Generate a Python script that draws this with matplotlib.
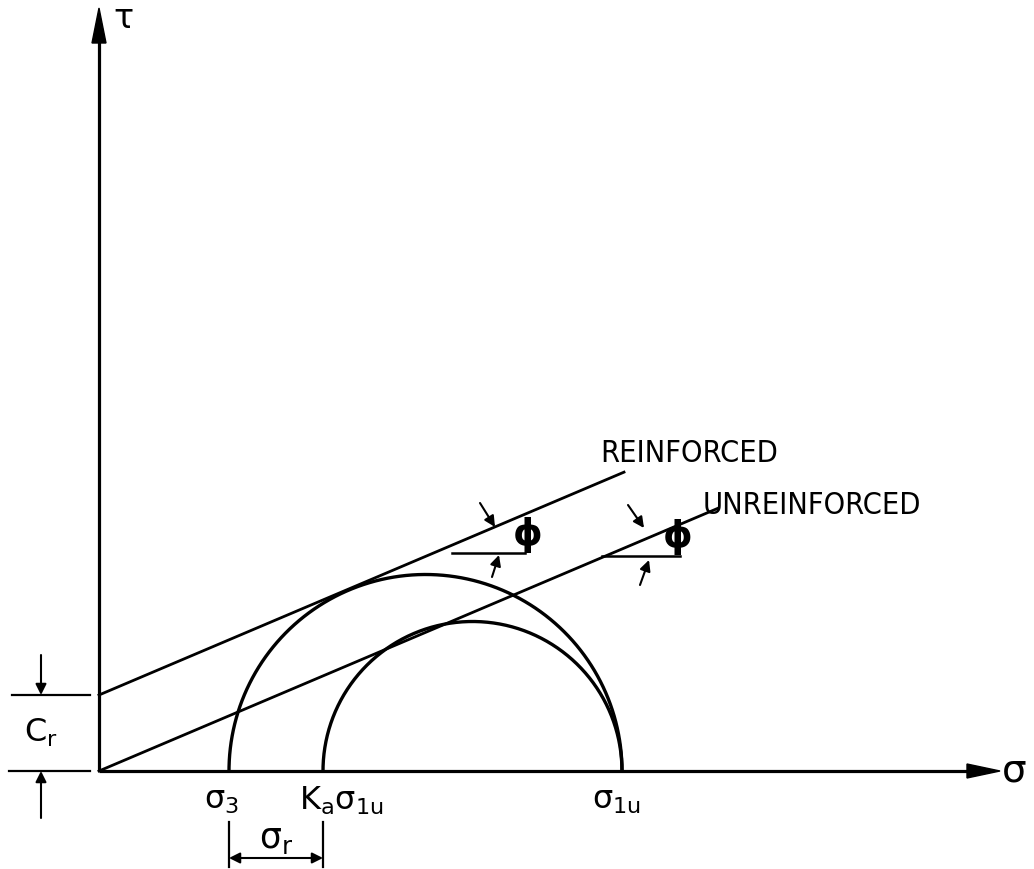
import numpy as np
import matplotlib.pyplot as plt

# stresses along sigma axis (drawing units, origin at axes origin)
sigma_3 = 130
ka_sigma_1u = 224
sigma_1u = 523
phi_deg = 23
c_r = 76
reinf_end = 525
unreinf_end = 619

labels_x = ['σ$_3$', 'K$_\\mathrm{a}$σ$_\\mathrm{1u}$', 'σ$_\\mathrm{1u}$']

plt.rcParams['mathtext.fontset'] = 'dejavusans'

fig = plt.figure(figsize=(10.34, 8.69), dpi=100)
ax = fig.add_axes([0, 0, 1, 1])
ax.set_xlim(-99, 935)
ax.set_ylim(-98, 771)
ax.axis('off')

k = dict(color='black', lw=2.3, solid_capstyle='butt')

# axes with arrows
ax.plot([0, 0], [0, 735], **k)
ax.plot([0, 870], [0, 0], **k)
ax.fill([-7, 7, 0], [728, 728, 763], color='black')
ax.fill([868, 868, 901], [-7, 7, 0], color='black')
ax.text(24, 753, 'τ', fontsize=24, ha='center', va='center')
ax.text(915, 0, 'σ', fontsize=28, ha='center', va='center')

# Mohr circles (upper halves)
t = np.linspace(0, np.pi, 300)
for a, b in [(sigma_3, sigma_1u), (ka_sigma_1u, sigma_1u)]:
    c, r = (a + b) / 2, (b - a) / 2
    ax.plot(c + r * np.cos(t), r * np.sin(t), color='black', lw=2.4)

# failure envelopes
tp = np.tan(np.radians(phi_deg))
ax.plot([0, reinf_end], [c_r, c_r + tp * reinf_end], color='black', lw=2.0)
ax.plot([0, unreinf_end], [0, tp * unreinf_end], color='black', lw=2.0)
ax.text(501, 317, 'REINFORCED', family='DejaVu Sans', fontstretch='condensed',
        fontsize=22, ha='left', va='center')
ax.text(604, 265, 'UNREINFORCED', family='DejaVu Sans', fontstretch='condensed',
        fontsize=22, ha='left', va='center')

# phi markers
aprops = dict(arrowstyle='-|>', color='black', lw=1.5, mutation_scale=16,
              shrinkA=0, shrinkB=0)
for (x0, x1, yh, px, py, up, lo) in [
        (353, 426, 218, 429, 236, ((381, 268), (396, 244)), ((393, 194), (400, 216))),
        (503, 581, 215, 579, 234, ((529, 266), (545, 243)), ((541, 186), (550, 211)))]:
    ax.plot([x0, x1], [yh, yh], color='black', lw=1.8)
    ax.text(px, py, 'ϕ', fontsize=27, fontweight='bold', ha='center', va='center')
    ax.annotate('', xy=up[1], xytext=up[0], arrowprops=aprops)
    ax.annotate('', xy=lo[1], xytext=lo[0], arrowprops=aprops)

# sigma labels
for xv, s in zip([sigma_3 - 8, ka_sigma_1u + 18, sigma_1u - 6], labels_x):
    ax.text(xv, -30, s, fontsize=23, ha='center', va='center')

# sigma_r dimension
ax.plot([sigma_3, sigma_3], [-51, -96], color='black', lw=1.6)
ax.plot([ka_sigma_1u, ka_sigma_1u], [-51, -96], color='black', lw=1.6)
ax.annotate('', xy=(ka_sigma_1u, -87), xytext=(sigma_3, -87),
            arrowprops=dict(arrowstyle='<|-|>', color='black', lw=1.5, mutation_scale=16,
                            shrinkA=0, shrinkB=0))
ax.text((sigma_3 + ka_sigma_1u) / 2, -68, 'σ$_\\mathrm{r}$', fontsize=25, ha='center', va='center')

# c_r dimension
ax.plot([-87, -9], [c_r, c_r], color='black', lw=1.6)
ax.plot([-90, -9], [0, 0], color='black', lw=1.6)
ax.annotate('', xy=(-58, c_r), xytext=(-58, c_r + 40), arrowprops=aprops)
ax.annotate('', xy=(-58, 0), xytext=(-58, -47), arrowprops=aprops)
ax.text(-58, 38, 'C$_\\mathrm{r}$', fontsize=23, ha='center', va='center')

fig.savefig('out.png', dpi=100)
